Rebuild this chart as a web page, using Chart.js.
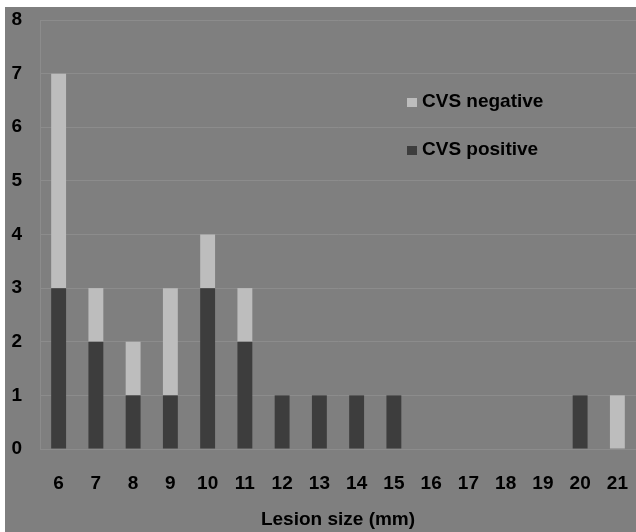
<!DOCTYPE html>
<html>
<head>
<meta charset="utf-8">
<script src="https://cdn.jsdelivr.net/npm/chart.js@4"></script>
<style>
  body { margin: 0; background: #fff; }
  #panel { position: absolute; left: 5px; top: 7px; width: 631px; height: 525px; background: #7f7f7f; }
  #c { position: absolute; left: 0; top: 0; }
  #legend { position: absolute; left: 407px; top: 89px; font: bold 19px "Liberation Sans", Arial, sans-serif; color: #000; }
  #legend div { height: 48px; line-height: 24px; }
  #legend span.sw { display: inline-block; width: 10px; height: 9px; margin-right: 5px; }
</style>
</head>
<body>
<div id="panel"></div>
<canvas id="c" width="636" height="532"></canvas>
<div id="legend"></div>
<script>
// lesion size categories (mm)
const sizes = ['6','7','8','9','10','11','12','13','14','15','16','17','18','19','20','21'];
const cvsPositive = [3, 2, 1, 1, 3, 2, 1, 1, 1, 1, 0, 0, 0, 0, 1, 0];
const cvsNegative = [4, 1, 1, 2, 1, 1, 0, 0, 0, 0, 0, 0, 0, 0, 0, 1];
const yTicks = [0, 1, 2, 3, 4, 5, 6, 7, 8];

const darkCol = '#3d3d3d';
const lightCol = '#bdbdbd';
const fontFam = '"Liberation Sans", Arial, sans-serif';

const datasets = [
  { label: 'CVS positive', data: cvsPositive, backgroundColor: darkCol },
  { label: 'CVS negative', data: cvsNegative, backgroundColor: lightCol }
];

new Chart(document.getElementById('c'), {
  type: 'bar',
  data: { labels: sizes, datasets: datasets },
  options: {
    responsive: false,
    animation: false,
    layout: { padding: { left: 0, top: 20, right: 0, bottom: 0 } },
    plugins: { legend: { display: false }, tooltip: { enabled: false } },
    datasets: { bar: { categoryPercentage: 1, barPercentage: 0.4 } },
    scales: {
      x: {
        stacked: true,
        grid: { display: false },
        border: { color: '#8c8c8c' },
        ticks: { color: '#000', font: { family: fontFam, size: 19, weight: 'bold' }, padding: 15, maxRotation: 0, autoSkip: false },
        title: { display: true, text: 'Lesion size (mm)', color: '#000', font: { family: fontFam, size: 19, weight: 'bold' }, padding: { top: 0, bottom: 1 } },
        afterFit: s => { s.height = 83; s.paddingLeft = 0; s.paddingRight = 0; }
      },
      y: {
        stacked: true,
        min: 0, max: 8,
        afterBuildTicks: s => { s.ticks = yTicks.map(v => ({ value: v })); },
        grid: { color: '#8c8c8c', drawTicks: false },
        border: { color: '#8c8c8c' },
        ticks: { color: '#000', font: { family: fontFam, size: 19, weight: 'bold' }, padding: 18 },
        afterFit: s => { s.width = 40; s.paddingTop = 0; s.paddingBottom = 0; }
      }
    }
  }
});

// legend, negative listed first as in the figure
const legend = document.getElementById('legend');
[datasets[1], datasets[0]].forEach(d => {
  const row = document.createElement('div');
  row.innerHTML = '<span class="sw" style="background:' + d.backgroundColor + '"></span>' + d.label;
  legend.appendChild(row);
});
</script>
</body>
</html>
